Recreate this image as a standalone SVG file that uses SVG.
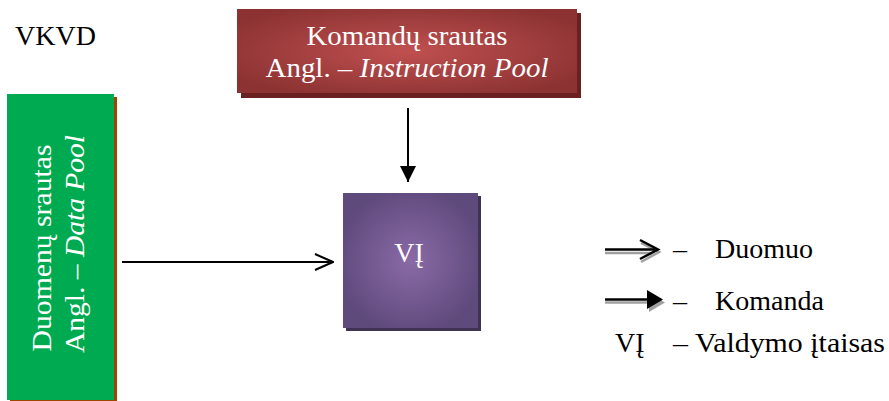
<svg xmlns="http://www.w3.org/2000/svg" width="889" height="401" viewBox="0 0 889 401">
<style>
text{font-family:"Liberation Serif","Times New Roman",serif;}
.w{fill:#ffffff;font-size:28px;}
.k{fill:#000000;font-size:28px;}
.ln{stroke:#000;stroke-width:2;fill:none;}
</style>
<defs>
<radialGradient id="gRed" cx="50%" cy="50%" r="60%">
<stop offset="0" stop-color="#c05050"/>
<stop offset="1" stop-color="#8c3232"/>
</radialGradient>
<radialGradient id="gPur" cx="50%" cy="50%" r="55%">
<stop offset="0" stop-color="#8a6aa6"/>
<stop offset="1" stop-color="#5f4a7c"/>
</radialGradient>
<marker id="mFill" markerWidth="16" markerHeight="16" refX="16" refY="8" orient="auto" markerUnits="userSpaceOnUse">
<path d="M0,0 L16,8 L0,16 Z" fill="#000"/>
</marker>
<marker id="mOpen" markerWidth="20" markerHeight="20" refX="19" refY="10" orient="auto" markerUnits="userSpaceOnUse">
<path d="M1,2 L19,10 L1,18" fill="none" stroke="#000" stroke-width="2"/>
</marker>
</defs>
<rect width="889" height="401" fill="#ffffff"/>
<text class="k" x="15" y="45">VKVD</text>

<g id="instruction-pool">
<rect x="241" y="13" width="340" height="85" fill="#6a2020"/>
<rect x="237" y="9" width="340" height="84" fill="url(#gRed)"/>
<text class="w" x="407" y="45" text-anchor="middle" textLength="201" lengthAdjust="spacingAndGlyphs">Komandų srautas</text>
<text class="w" x="407" y="77" text-anchor="middle" textLength="283" lengthAdjust="spacingAndGlyphs">Angl. – <tspan font-style="italic">Instruction Pool</tspan></text>
</g>

<g id="data-pool">
<rect x="10" y="97" width="107" height="306" fill="#a04500"/>
<rect x="7" y="94" width="107" height="306" fill="#00aa50"/>
<g transform="translate(60,246) rotate(-90)">
<text class="w" x="-2" y="-9" text-anchor="middle" textLength="207" lengthAdjust="spacingAndGlyphs">Duomenų srautas</text>
<text class="w" x="2" y="24" text-anchor="middle" textLength="218" lengthAdjust="spacingAndGlyphs">Angl. – <tspan font-style="italic">Data Pool</tspan></text>
</g>
</g>

<g id="vi">
<rect x="346" y="196" width="135" height="135" fill="#3f3252"/>
<rect x="343" y="193" width="135" height="135" fill="url(#gPur)"/>
<text class="w" x="409" y="262" text-anchor="middle">VĮ</text>
</g>

<g id="connectors">
<line class="ln" x1="408" y1="108" x2="408" y2="182" marker-end="url(#mFill)"/>
<line class="ln" x1="122" y1="262" x2="333" y2="262" marker-end="url(#mOpen)"/>
</g>

<g id="legend">
<line x1="605" y1="253" x2="652" y2="253" stroke="#a0a0a0" stroke-width="2.5"/>
<path d="M641,243 L659,252 L641,262" fill="none" stroke="#a0a0a0" stroke-width="2.5"/>
<line x1="605" y1="249.5" x2="655" y2="249.5" stroke="#000" stroke-width="2.5"/>
<path d="M640,240 L658,249.5 L640,259" fill="none" stroke="#000" stroke-width="2.5"/>
<text class="k" x="673" y="258">–</text>
<text class="k" x="715" y="258">Duomuo</text>

<line x1="605" y1="302.5" x2="650" y2="302.5" stroke="#a0a0a0" stroke-width="2.5"/>
<path d="M649,293 L665,302.5 L649,312 Z" fill="#a0a0a0"/>
<line x1="605" y1="299.5" x2="650" y2="299.5" stroke="#000" stroke-width="2.5"/>
<path d="M647,290 L663,299.5 L647,309 Z" fill="#000"/>
<text class="k" x="673" y="310">–</text>
<text class="k" x="715" y="310">Komanda</text>

<text class="k" x="615" y="352">VĮ</text>
<text class="k" x="673" y="352" textLength="212" lengthAdjust="spacingAndGlyphs">– Valdymo įtaisas</text>
</g>
</svg>
